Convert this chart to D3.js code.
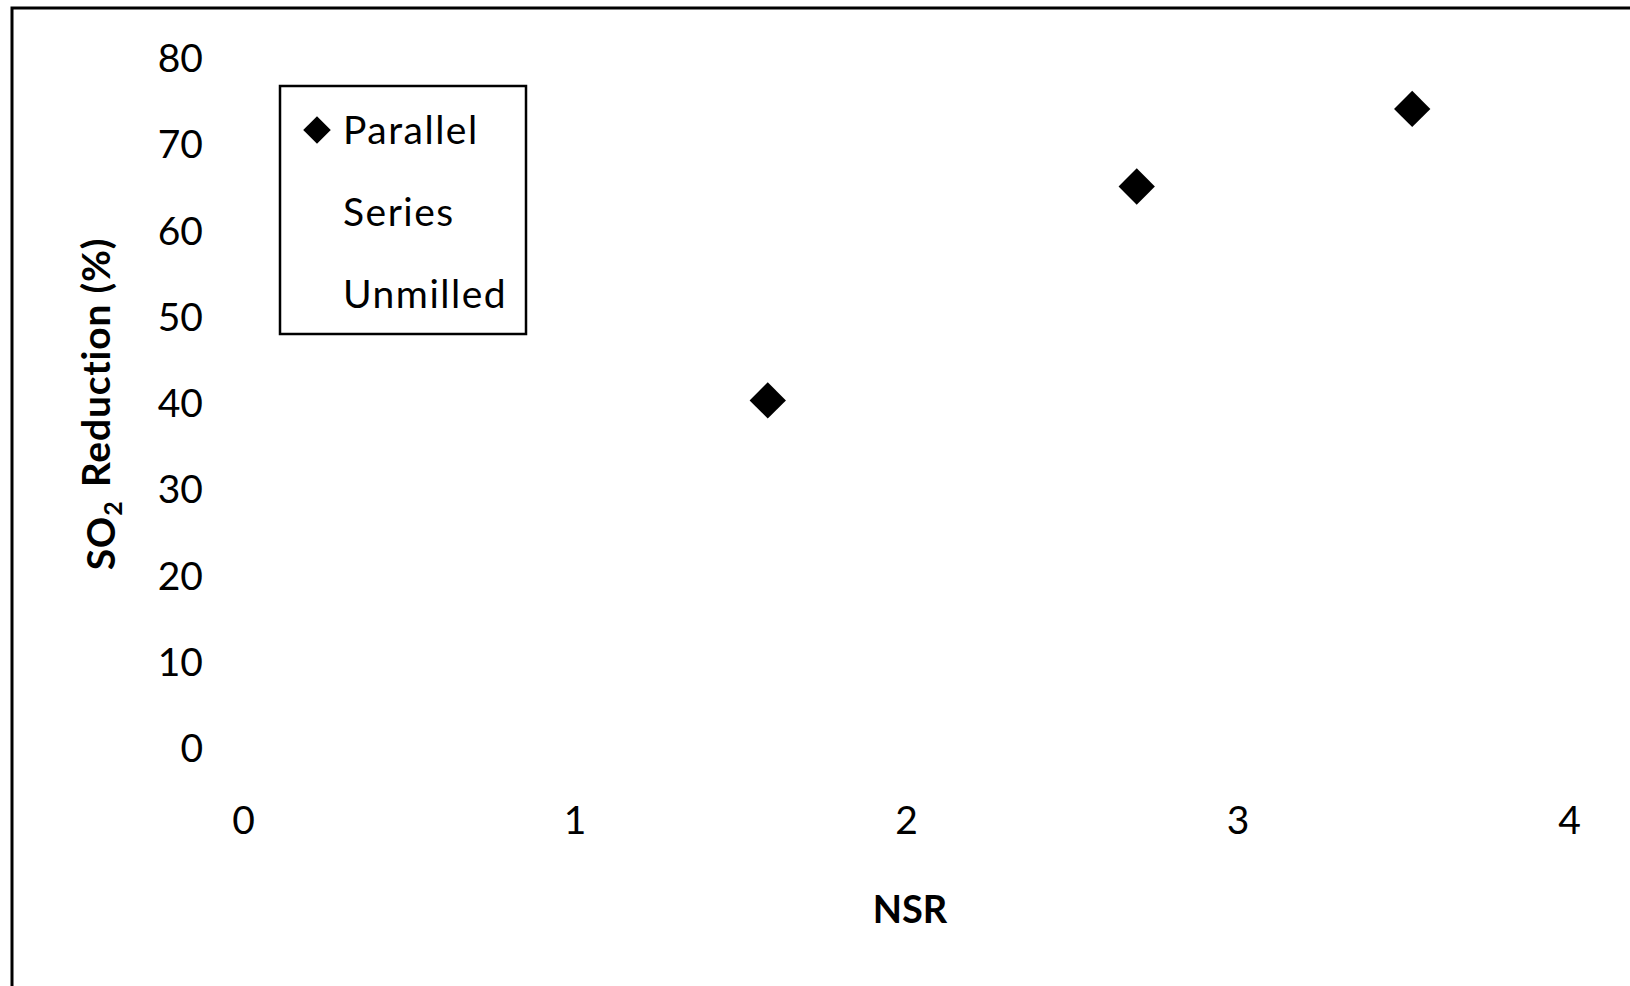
<!DOCTYPE html>
<html>
<head>
<meta charset="utf-8">
<script src="https://cdn.jsdelivr.net/npm/d3@7"></script>
<style>
  html, body { margin: 0; padding: 0; background: #fff; }
  svg { display: block; }
  text { font-family: Lato, "Open Sans", sans-serif; fill: #000; }
</style>
</head>
<body>
<svg id="chart" width="1630" height="986"></svg>
<script>
// ---- data ----
const parallelNSR = [1.583, 2.696, 3.527];
const parallelSO2 = [40.3, 65.1, 74.1];
const xTicks = [0, 1, 2, 3, 4];
const yTicks = [0, 10, 20, 30, 40, 50, 60, 70, 80];
const legendLabels = ["Parallel", "Series", "Unmilled"];
const xTitle = "NSR";

// ---- layout ----
const svg = d3.select("#chart");
const W = 1630, H = 986;
const plot = { left: 243, right: 1569, top: 58, bottom: 748 };

const x = d3.scaleLinear().domain([0, 4]).range([plot.left, plot.right]);
const y = d3.scaleLinear().domain([0, 80]).range([plot.bottom, plot.top]);

// outer chart border (extends past right/bottom edges)
svg.append("rect")
  .attr("x", 12).attr("y", 8)
  .attr("width", W + 20).attr("height", H + 20)
  .attr("fill", "none").attr("stroke", "#000").attr("stroke-width", 3);

// x axis
const xAxis = svg.append("g")
  .attr("transform", `translate(0,${plot.bottom})`)
  .call(d3.axisBottom(x).tickValues(xTicks).tickSize(0).tickPadding(0).tickFormat(d3.format("d")));
xAxis.select(".domain").remove();
xAxis.selectAll("text")
  .attr("y", 72).attr("dy", "0.35em")
  .style("font-size", "39px").style("font-family", "Lato, sans-serif");

// y axis
const yAxis = svg.append("g")
  .attr("transform", `translate(${plot.left},0)`)
  .call(d3.axisLeft(y).tickValues(yTicks).tickSize(0).tickPadding(0).tickFormat(d3.format("d")));
yAxis.select(".domain").remove();
yAxis.selectAll("text")
  .attr("x", -40).attr("dy", "0.35em")
  .style("font-size", "39px").style("font-family", "Lato, sans-serif");

// axis titles
svg.append("text")
  .attr("x", 910).attr("y", 910).attr("dy", "0.35em")
  .attr("text-anchor", "middle")
  .style("font-size", "38px").style("font-weight", "bold")
  .text(xTitle);

const yt = svg.append("text")
  .attr("transform", "translate(101,404) rotate(-90)")
  .attr("text-anchor", "middle").attr("dy", "0.35em")
  .style("font-size", "39px").style("font-weight", "bold")
  .style("letter-spacing", "0.8px");
yt.append("tspan").text("SO");
yt.append("tspan").attr("dy", "0.3em").style("font-size", "25px").text("2");
yt.append("tspan").attr("dy", "-0.3em").attr("dx", "3").text(" Reduction (%)");

// markers
const diamondBig = d3.symbol().type(d3.symbolSquare).size(660);
svg.append("g").selectAll("path")
  .data(parallelNSR.map((v, i) => [v, parallelSO2[i]]))
  .join("path")
  .attr("transform", d => `translate(${x(d[0])},${y(d[1])}) rotate(45)`)
  .attr("d", diamondBig)
  .attr("fill", "#000");

// legend
const lg = svg.append("g");
lg.append("rect")
  .attr("x", 280).attr("y", 86).attr("width", 246).attr("height", 248)
  .attr("fill", "#fff").attr("stroke", "#000").attr("stroke-width", 2.5);
const legendY = [130, 212, 294];
lg.append("path")
  .attr("transform", `translate(317,${legendY[0]}) rotate(45)`)
  .attr("d", d3.symbol().type(d3.symbolSquare).size(380))
  .attr("fill", "#000");
lg.selectAll("text.lbl")
  .data(legendLabels)
  .join("text")
  .attr("class", "lbl")
  .attr("x", 343).attr("y", (d, i) => legendY[i]).attr("dy", "0.35em")
  .style("font-size", "39px").style("letter-spacing", "1.5px")
  .text(d => d);
</script>
</body>
</html>
